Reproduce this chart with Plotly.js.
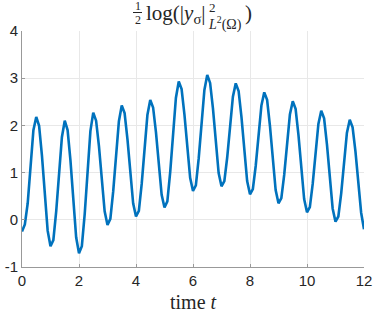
<!DOCTYPE html>
<html>
<head>
<meta charset="utf-8">
<script src="https://cdn.plot.ly/plotly-3.0.1.min.js"></script>
<style>html,body{margin:0;padding:0;background:#fff;}#chart{width:374px;height:312px;}</style>
</head>
<body>
<div id="chart"></div>
<script>
// time samples (step 0.1)
const timeT = [];
for (let i = 0; i <= 120; i++) timeT.push(+(i / 10).toFixed(1));

// values
const logNorm = [
  -0.25, -0.10, 0.35, 1.20, 1.90, 2.18, 1.99, 1.36, 0.54, -0.23,
  -0.56, -0.43, 0.18, 1.04, 1.75, 2.10, 1.90, 1.26, 0.41, -0.37,
  -0.71, -0.56, 0.12, 1.08, 1.88, 2.27, 2.10, 1.56, 0.84, 0.18,
  -0.11, 0.02, 0.60, 1.41, 2.09, 2.42, 2.26, 1.71, 1.01, 0.35,
  0.07, 0.19, 0.76, 1.55, 2.22, 2.54, 2.38, 1.86, 1.17, 0.53,
  0.26, 0.39, 1.01, 1.86, 2.58, 2.93, 2.77, 2.23, 1.54, 0.89,
  0.61, 0.73, 1.30, 2.09, 2.75, 3.07, 2.90, 2.36, 1.65, 0.99,
  0.71, 0.82, 1.32, 2.02, 2.61, 2.89, 2.73, 2.18, 1.48, 0.82,
  0.54, 0.65, 1.14, 1.84, 2.42, 2.70, 2.54, 1.99, 1.29, 0.63,
  0.35, 0.46, 0.95, 1.65, 2.23, 2.51, 2.35, 1.80, 1.10, 0.44,
  0.16, 0.27, 0.76, 1.45, 2.03, 2.31, 2.15, 1.60, 0.90, 0.24,
  -0.04, 0.07, 0.56, 1.26, 1.84, 2.12, 1.96, 1.45, 0.75, 0.15,
  -0.20
];

const xTickVals = [0, 2, 4, 6, 8, 10, 12];
const yTickVals = [-1, 0, 1, 2, 3, 4];

const W = 374, H = 312;
const M = {l: 22, r: 10, t: 31, b: 45};
const pw = W - M.l - M.r, ph = H - M.t - M.b;
const px = v => (v - M.l) / pw;
const py = v => (H - M.b - v) / ph;

const serif = 'Liberation Serif';
const titleColor = '#262626';

const annotations = [
  {text: '1', x: px(137.5), y: py(6.5), size: 12},
  {text: '2', x: px(137.5), y: py(19.5), size: 12},
  {text: 'log(|<i>y</i><sub>σ</sub>|', x: px(145), y: py(13.5), size: 21, xanchor: 'left', pad: 0},
  {text: '2', x: px(206.5), y: py(7), size: 13, xanchor: 'left'},
  {text: '<i>L</i><sup>2</sup>(Ω)', x: px(206), y: py(23), size: 14, xanchor: 'left'},
  {text: ')', x: px(244), y: py(13), size: 21, xanchor: 'left', pad: 0},
  {text: 'time <i>t</i>', x: px(193), y: py(301.5), size: 20}
].map(a => ({
  text: a.text, x: a.x, y: a.y, xref: 'paper', yref: 'paper',
  xanchor: a.xanchor || 'center', yanchor: 'middle', showarrow: false,
  borderpad: a.pad === undefined ? 1 : a.pad,
  font: {family: serif, size: a.size, color: titleColor}
}));

const trace = {
  x: timeT, y: logNorm, type: 'scatter', mode: 'lines',
  line: {color: '#0072BD', width: 2.6}
};

const axisCommon = {
  showgrid: true, gridcolor: '#e8e8e8', gridwidth: 1,
  zeroline: false, showline: true, linecolor: '#999999', linewidth: 1,
  ticks: 'inside', ticklen: 3, tickcolor: '#999999',
  tickfont: {family: 'Liberation Sans', size: 15, color: '#262626'},
  mirror: false, fixedrange: true
};

const layout = {
  width: W, height: H, margin: M,
  paper_bgcolor: '#fff', plot_bgcolor: '#fff', showlegend: false,
  xaxis: Object.assign({}, axisCommon, {
    range: [0, 12], tickvals: xTickVals, ticktext: xTickVals.map(String)
  }),
  yaxis: Object.assign({}, axisCommon, {
    range: [-1, 4], tickvals: yTickVals, ticktext: yTickVals.map(String)
  }),
  annotations: annotations,
  shapes: [{type: 'line', xref: 'paper', yref: 'paper', x0: px(133), x1: px(142), y0: py(12.5), y1: py(12.5),
            line: {color: titleColor, width: 1}}]
};

Plotly.newPlot('chart', [trace], layout, {displayModeBar: false, staticPlot: true});
</script>
</body>
</html>
